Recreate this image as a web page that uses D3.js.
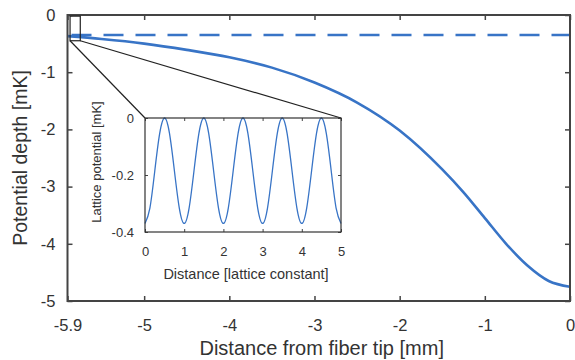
<!DOCTYPE html>
<html>
<head>
<meta charset="utf-8">
<script src="https://cdn.jsdelivr.net/npm/d3@7"></script>
<style>
  body { margin: 0; background: #fff; }
  svg { font-family: "Liberation Sans", Arial, sans-serif; }
</style>
</head>
<body>
<div id="plot"></div>
<script>
// main curve: potential depth along fiber distance
const distMm = [-5.9, -5.5, -5, -4.5, -4, -3.5, -3, -2.5, -2, -1.5, -1.25, -1, -0.75, -0.5, -0.25, 0];
const depthMk = [-0.37, -0.42, -0.50, -0.61, -0.74, -0.92, -1.18, -1.53, -2.02, -2.70, -3.10, -3.55, -4.00, -4.38, -4.65, -4.75];
const dashedLevel = -0.35;
const xTicks = [-5.9, -5, -4, -3, -2, -1, 0];
const yTicks = [0, -1, -2, -3, -4, -5];

// zoom box in main axes
const boxX = [-5.87, -5.75];
const boxY = [-0.45, -0.02];

// inset: lattice potential, sampled every 1/8 lattice constant
const latticeX = d3.range(0, 41).map(i => i / 8);
const latticeV = [
  -0.37, -0.316, -0.185, -0.054, 0, -0.054, -0.185, -0.316,
  -0.37, -0.316, -0.185, -0.054, 0, -0.054, -0.185, -0.316,
  -0.37, -0.316, -0.185, -0.054, 0, -0.054, -0.185, -0.316,
  -0.37, -0.316, -0.185, -0.054, 0, -0.054, -0.185, -0.316,
  -0.37, -0.316, -0.185, -0.054, 0, -0.054, -0.185, -0.316,
  -0.37
];
const insetXTicks = [0, 1, 2, 3, 4, 5];
const insetYTicks = [0, -0.2, -0.4];

const blue = "#3874c6";
const axisCol = "#444";

const svg = d3.select("#plot").append("svg")
    .attr("width", 575)
    .attr("height", 360);

const m = {left: 67.5, right: 570, top: 15, bottom: 301};

const x = d3.scaleLinear().domain([-5.9, 0]).range([m.left, m.right]);
const y = d3.scaleLinear().domain([-5, 0]).range([m.bottom, m.top]);

svg.append("clipPath").attr("id", "clip")
  .append("rect")
    .attr("x", m.left).attr("y", m.top)
    .attr("width", m.right - m.left).attr("height", m.bottom - m.top);

// dashed reference level
svg.append("line")
    .attr("x1", x(-5.9)).attr("x2", x(0))
    .attr("y1", y(dashedLevel)).attr("y2", y(dashedLevel))
    .attr("stroke", blue)
    .attr("stroke-width", 2.6)
    .attr("stroke-dasharray", "20,12")
    .attr("stroke-dashoffset", 28);

// main curve
const line = d3.line()
    .x((d, i) => x(distMm[i]))
    .y(d => y(d))
    .curve(d3.curveMonotoneX);

svg.append("path")
    .datum(depthMk)
    .attr("clip-path", "url(#clip)")
    .attr("d", line)
    .attr("fill", "none")
    .attr("stroke", blue)
    .attr("stroke-width", 2.6);

// axes with inward ticks, box on
function styleAxis(g, size) {
  g.select(".domain").remove();
  g.selectAll(".tick line").attr("stroke", axisCol).attr("stroke-width", 1.5);
  g.selectAll(".tick text").attr("fill", "#333").style("font-size", size + "px");
}

const fmt = d => d === 0 ? "0" : d3.format("")(d).replace("−", "-");

svg.append("g")
    .attr("transform", `translate(0,${m.bottom})`)
    .call(d3.axisBottom(x).tickValues(xTicks).tickSize(-5).tickPadding(30).tickFormat(fmt))
    .call(g => styleAxis(g, 16.5))
    .call(g => g.selectAll(".tick text").attr("dy", "0"));

svg.append("g")
    .attr("transform", `translate(0,${m.top})`)
    .call(d3.axisTop(x).tickValues(xTicks).tickSize(-5).tickFormat(""))
    .call(g => styleAxis(g, 16));

svg.append("g")
    .attr("transform", `translate(${m.left},0)`)
    .call(d3.axisLeft(y).tickValues(yTicks).tickSize(-5).tickPadding(12).tickFormat(fmt))
    .call(g => styleAxis(g, 16.5));

svg.append("g")
    .attr("transform", `translate(${m.right},0)`)
    .call(d3.axisRight(y).tickValues(yTicks).tickSize(-5).tickFormat(""))
    .call(g => styleAxis(g, 16));

svg.append("rect")
    .attr("x", m.left).attr("y", m.top)
    .attr("width", m.right - m.left).attr("height", m.bottom - m.top)
    .attr("fill", "none")
    .attr("stroke", axisCol)
    .attr("stroke-width", 2);

svg.append("text")
    .attr("x", (m.left + m.right) / 2 + 3)
    .attr("y", 355)
    .attr("text-anchor", "middle")
    .attr("fill", "#333")
    .style("font-size", "20px")
    .text("Distance from fiber tip [mm]");

svg.append("text")
    .attr("transform", `translate(27,${(m.top + m.bottom) / 2}) rotate(-90)`)
    .attr("text-anchor", "middle")
    .attr("fill", "#333")
    .style("font-size", "19.5px")
    .text("Potential depth [mK]");

// inset
const im = {left: 145, right: 341, top: 118, bottom: 232};
const ix = d3.scaleLinear().domain([0, 5]).range([im.left, im.right]);
const iy = d3.scaleLinear().domain([-0.4, 0]).range([im.bottom, im.top]);

// zoom box and connector lines
svg.append("rect")
    .attr("x", x(boxX[0])).attr("y", y(boxY[1]))
    .attr("width", x(boxX[1]) - x(boxX[0]))
    .attr("height", y(boxY[0]) - y(boxY[1]))
    .attr("fill", "none")
    .attr("stroke", "#222")
    .attr("stroke-width", 1.2);

svg.append("line")
    .attr("x1", x(boxX[0])).attr("y1", y(boxY[0]))
    .attr("x2", im.left).attr("y2", im.top)
    .attr("stroke", "#222").attr("stroke-width", 1.2);

svg.append("line")
    .attr("x1", x(boxX[1])).attr("y1", y(boxY[0]))
    .attr("x2", im.right).attr("y2", im.top)
    .attr("stroke", "#222").attr("stroke-width", 1.2);

svg.append("rect")
    .attr("x", im.left).attr("y", im.top)
    .attr("width", im.right - im.left).attr("height", im.bottom - im.top)
    .attr("fill", "#fff");

const iline = d3.line()
    .x((d, i) => ix(latticeX[i]))
    .y(d => iy(d))
    .curve(d3.curveNatural);

svg.append("path")
    .datum(latticeV)
    .attr("d", iline)
    .attr("fill", "none")
    .attr("stroke", blue)
    .attr("stroke-width", 1.3);

const ifmt = d => d === 0 ? "0" : String(d).replace("−", "-");

svg.append("g")
    .attr("transform", `translate(0,${im.bottom})`)
    .call(d3.axisBottom(ix).tickValues(insetXTicks).tickSize(-3).tickPadding(15).tickFormat(ifmt))
    .call(g => styleAxis(g, 13))
    .call(g => g.selectAll(".tick line").attr("stroke-width", 1));

svg.append("g")
    .attr("transform", `translate(0,${im.top})`)
    .call(d3.axisTop(ix).tickValues(insetXTicks).tickSize(-3).tickFormat(""))
    .call(g => styleAxis(g, 13))
    .call(g => g.selectAll(".tick line").attr("stroke-width", 1));

svg.append("g")
    .attr("transform", `translate(${im.left},0)`)
    .call(d3.axisLeft(iy).tickValues(insetYTicks).tickSize(-3).tickPadding(11).tickFormat(ifmt))
    .call(g => styleAxis(g, 13))
    .call(g => g.selectAll(".tick line").attr("stroke-width", 1));

svg.append("g")
    .attr("transform", `translate(${im.right},0)`)
    .call(d3.axisRight(iy).tickValues(insetYTicks).tickSize(-3).tickFormat(""))
    .call(g => styleAxis(g, 13))
    .call(g => g.selectAll(".tick line").attr("stroke-width", 1));

svg.append("rect")
    .attr("x", im.left).attr("y", im.top)
    .attr("width", im.right - im.left).attr("height", im.bottom - im.top)
    .attr("fill", "none")
    .attr("stroke", "#333")
    .attr("stroke-width", 1.2);

svg.append("text")
    .attr("x", (im.left + im.right) / 2 + 3)
    .attr("y", 279)
    .attr("text-anchor", "middle")
    .attr("fill", "#333")
    .style("font-size", "14.5px")
    .text("Distance [lattice constant]");

svg.append("text")
    .attr("transform", `translate(101,162) rotate(-90)`)
    .attr("text-anchor", "middle")
    .attr("fill", "#333")
    .style("font-size", "13px")
    .text("Lattice potential [mK]");
</script>
</body>
</html>
